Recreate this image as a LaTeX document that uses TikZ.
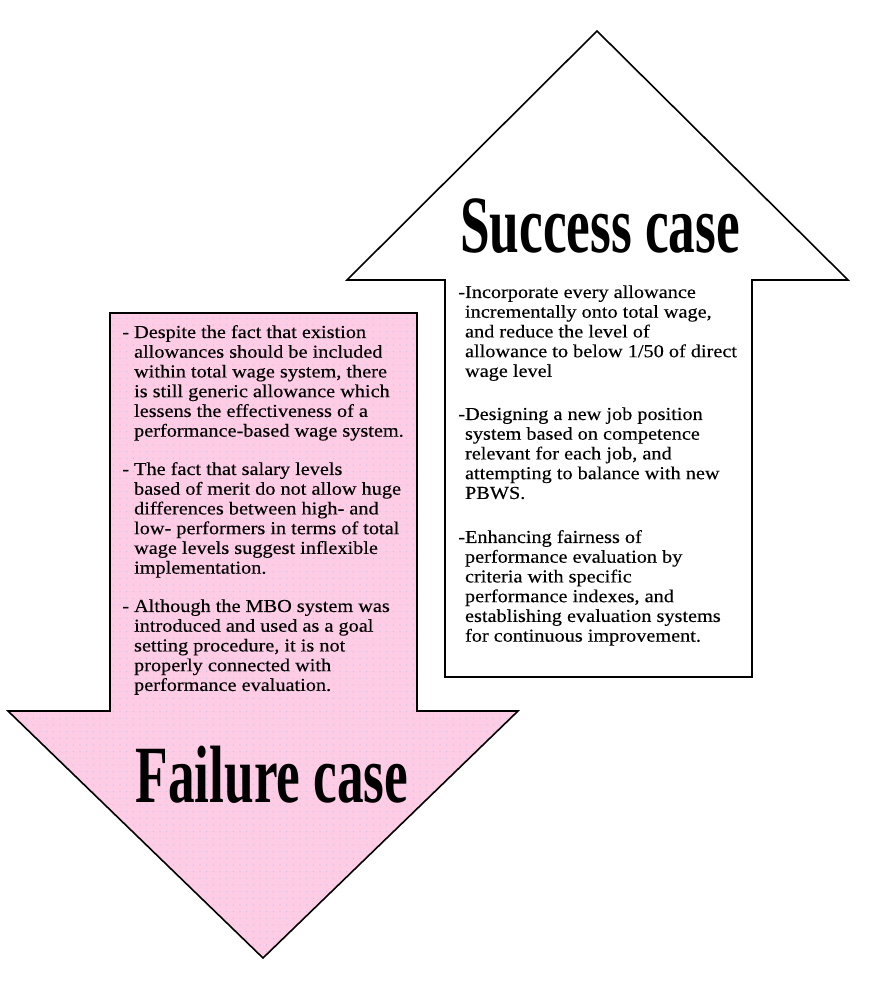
\documentclass[tikz,border=0pt]{standalone}
\usepackage{fontspec}
\setmainfont{Liberation Serif}
\usetikzlibrary{patterns.meta}

\definecolor{failpink}{RGB}{255,204,230}
\definecolor{dotblue}{RGB}{190,196,232}
% one "-" item whose following lines hang under the text
\newcommand{\dashitem}[2]{#1\begin{tabular}[t]{@{}l@{}}#2\end{tabular}}

\begin{document}
\begin{tikzpicture}[%
      x=0.75pt,y=0.75pt,          % work in pixels of the page
      title/.style={font=\fontsize{61}{61}\selectfont\bfseries, inner sep=0pt,
                    anchor=base, transform shape, xscale=0.655},
      body/.style={font=\fontsize{13.7}{14.8}\selectfont\addfontfeatures{FakeBold=0.25},
                   inner sep=0pt, anchor=base west, transform shape, xscale=1.11}
      ]
  \tikzset{
    succ/.style={draw, line width=1.2pt, fill=white},
    fail/.style={draw, line width=1.2pt, preaction={fill=failpink},
                 preaction={pattern={Dots[distance=5pt,radius=0.45pt]}, pattern color=dotblue}}}
  \useasboundingbox (0,0) rectangle (877,985);

  % the two big arrows
  \path[succ] (597,954) -- (848,705) -- (752,705) -- (752,308)
     -- (445,308) -- (445,705) -- (347,705) -- cycle;
  \path[fail] (110,672) -- (417,672) -- (417,274) -- (518,274)
     -- (263,27) -- (8,274) -- (110,274) -- cycle;

  \node[title] (stitle) at (600,732) {Success case};
  \node[title] (ftitle) at (272,182) {Failure case};

  % success side
  \node[body] (s1) at (458,687) {\dashitem{-}{Incorporate every allowance\\
    incrementally onto total wage,\\ and reduce the level of\\
    allowance to below 1/50 of direct\\ wage level}};
  \node[body] (s2) at (458,565) {\dashitem{-}{Designing a new job position\\
    system based on competence\\ relevant for each job, and\\
    attempting to balance with new\\ PBWS.}};
  \node[body] (s3) at (458,442) {\dashitem{-}{Enhancing fairness of\\
    performance evaluation by\\ criteria with specific\\
    performance indexes, and\\ establishing evaluation systems\\
    for continuous improvement.}};

  % failure side
  \node[body] (f1) at (122,647) {\dashitem{- }{Despite the fact that existion\\
    allowances should be included\\ within total wage system, there\\
    is still generic allowance which\\ lessens the effectiveness of a\\
    performance-based wage system.}};
  \node[body] (f2) at (122,510) {\dashitem{- }{The fact that salary levels\\
    based of merit do not allow huge\\ differences between high- and\\
    low- performers in terms of total\\ wage levels suggest inflexible\\
    implementation.}};
  \node[body] (f3) at (122,373) {\dashitem{- }{Although the MBO system was\\
    introduced and used as a goal\\ setting procedure, it is not\\
    properly connected with\\ performance evaluation.}};
\end{tikzpicture}
\end{document}
